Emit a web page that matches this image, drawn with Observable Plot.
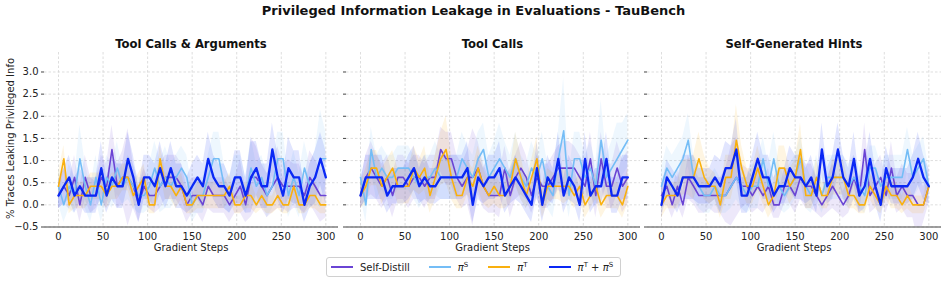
<!DOCTYPE html>
<html>
<head>
<meta charset="utf-8">
<script src="https://cdn.jsdelivr.net/npm/d3@7"></script>
<script src="https://cdn.jsdelivr.net/npm/@observablehq/plot@0.6"></script>
<style>
  html, body { margin: 0; padding: 0; background: #fff; }
  #root { position: relative; width: 947px; height: 281px; font-family: "DejaVu Sans", sans-serif; color: #111; overflow: hidden; }
  .abs { position: absolute; }
  .ptitle { font-weight: bold; font-size: 11.6px; text-align: center; width: 294px; top: 37px; }
  .xlabel { font-size: 10px; text-align: center; width: 294px; top: 242px; color: #222; }
  #legend { position: absolute; left: 326px; top: 257px; width: 293px; height: 18px; border: 1px solid #d0d0d0; border-radius: 3px; display: flex; align-items: center; font-size: 10px; color: #222; white-space: nowrap; }
  .li { display: flex; align-items: center; white-space: nowrap; flex: none; }
  .sw { width: 22px; height: 2px; margin: 0 7px 0 0; flex: none; }
  sup { font-size: 7px; vertical-align: 4px; font-style: normal; line-height: 0; }
</style>
</head>
<body>
<div id="root">
  <div class="abs" style="left:0;top:3px;width:947px;text-align:center;font-weight:bold;font-size:13px;">Privileged Information Leakage in Evaluations - TauBench</div>
  <div class="abs" style="left:-74px;top:133px;width:168px;text-align:center;font-size:10px;transform:rotate(-90deg);color:#222;white-space:nowrap;">% Traces Leaking Privileged Info</div>
  <div id="legend">
    <div class="li" style="margin-left:4px"><div class="sw" style="background:#6a44d4"></div><span>Self-Distill</span></div>
    <div class="li" style="margin-left:19px"><div class="sw" style="background:#74bdf6"></div><span><i>π</i><sup>S</sup></span></div>
    <div class="li" style="margin-left:20px"><div class="sw" style="background:#f9b00e"></div><span><i>π</i><sup>T</sup></span></div>
    <div class="li" style="margin-left:21px"><div class="sw" style="background:#0a28f5"></div><span><i>π</i><sup>T</sup> + <i>π</i><sup>S</sup></span></div>
  </div>
</div>
<script>
// ---------- data ----------
const steps = [0,6,12,18,24,30,36,42,48,54,60,66,72,78,84,90,96,102,108,114,120,126,132,138,144,150,156,162,168,174,180,186,192,198,204,210,216,222,228,234,240,246,252,258,264,270,276,282,288,294,300];
const seriesNames = ["Self-Distill", "πS", "πT", "πT + πS"];
const seriesColors = ["#6a44d4", "#74bdf6", "#f9b00e", "#0a28f5"];
const panelTitles = ["Tool Calls & Arguments", "Tool Calls", "Self-Generated Hints"];
const xTicks = [0, 50, 100, 150, 200, 250, 300];
const yTicks = [-0.5, 0, 0.5, 1.0, 1.5, 2.0, 2.5, 3.0];

// Panel 1: Tool Calls & Arguments
const tcaSelfDistill = [0.21,0.42,0.21,0.62,0,0.62,0.21,0.21,0.62,0.42,1.25,0.42,0.62,0.62,0.42,0,0.42,0.21,0.21,0.42,0.62,0.62,0.62,0.42,0,0.21,0.21,0,0.42,0.21,0.21,0.21,0,0.21,0.42,0,0.62,0.62,0.42,0.21,0.42,0.62,0.42,0.42,0.42,0.42,0.21,0.62,0.42,0.21,0.21];
const tcaPiS = [0.42,0,0.42,0.21,1.04,0.42,0,0.62,0,0.62,0.42,0.83,0.42,0.62,0.42,0.21,0.21,0.42,0.83,0.42,0.62,0.42,0.62,0.83,0.62,0,0.21,0.21,0.62,1.04,1.04,0.42,0.21,0.62,0.62,0.21,0.83,0.42,0.62,0.21,0.42,1.04,1.04,0.21,0.62,0.21,0.83,0.42,0.62,1.04,1.04];
const tcaPiT = [0.42,1.04,0,0.21,0.21,0.21,0.42,0.42,0.42,0.21,0.42,0.42,0.62,0.62,0.21,0.42,0.62,0,0,1.04,0.42,0.42,0.21,0.42,0,0,0.21,0.21,0.21,0.21,0.21,0.21,0.42,0,0,0.21,0.21,0,0.21,0,0,0.21,0,0,0.42,0,0,0.21,0.21,0,0];
const tcaPiTS = [0.21,0.42,0.62,0.21,0.42,0.21,0.21,0.21,0.83,0.21,0.62,0.42,0.42,1.04,0.62,0,0.62,0.62,0.42,0.83,0.42,0.83,0.42,0.42,0.21,0.42,0.62,0.42,1.04,0.62,0.42,0.42,0.21,0.62,0.62,0.21,0.62,0.83,0.42,0.42,1.25,0.62,0.21,0.83,0.62,0.62,0,0.42,0.62,1.04,0.62];
const tcaSelfDistillErr = [0.3,0.4,0.3,0.5,0.4,0.5,0.4,0.3,0.5,0.5,0.55,0.5,0.6,1.1,0.5,0.4,0.4,0.3,0.4,0.5,0.5,0.5,0.5,0.5,0.4,0.4,0.4,0.4,0.5,0.4,0.4,0.4,0.4,0.4,0.6,0.4,0.9,0.7,0.5,0.5,0.6,0.7,0.5,0.6,0.5,0.5,0.4,0.6,0.6,0.6,0.5];
const tcaPiSErr = [0.4,0.4,0.5,0.4,0.75,0.5,0.4,0.5,0.4,0.5,0.5,0.6,0.4,0.5,0.5,0.4,0.4,0.5,0.6,0.6,0.7,0.5,0.5,0.5,0.5,0.4,0.4,0.4,0.5,0.6,0.6,0.5,0.4,0.5,0.5,0.4,0.7,0.5,0.5,0.5,0.5,0.6,0.6,0.5,0.6,0.5,0.6,0.5,0.6,1.1,0.6];
const tcaPiTErr = [0.3,0.3,0.2,0.3,0.3,0.3,0.3,0.3,0.3,0.3,0.3,0.3,0.3,0.3,0.3,0.3,0.3,0.2,0.2,0.3,0.3,0.3,0.3,0.3,0.2,0.2,0.3,0.3,0.3,0.3,0.3,0.3,0.3,0.2,0.2,0.3,0.3,0.2,0.3,0.2,0.2,0.3,0.2,0.2,0.3,0.2,0.2,0.3,0.3,0.2,0.2];
const tcaPiTSErr = [0.3,0.4,0.5,0.4,0.4,0.4,0.4,0.4,0.6,0.4,0.5,0.5,0.5,0.6,0.5,0.4,0.5,0.5,0.5,0.6,0.5,0.6,0.5,0.5,0.4,0.5,0.5,0.5,0.6,0.5,0.5,0.5,0.4,0.6,0.6,0.4,0.8,0.6,0.5,0.5,0.6,0.5,0.4,0.7,0.6,0.6,0.4,0.5,0.6,0.6,0.6];

// Panel 2: Tool Calls
const tcSelfDistill = [0.21,0.62,0.83,0.62,0.42,0.62,0.21,0.62,0.62,0.42,0.62,0.62,0.42,0.62,0.62,1.25,1.04,1.04,0.62,0.42,0.62,0.62,0.83,0.42,0.21,0.21,0.21,0.83,0.21,0.62,0.83,0.62,0.21,0.62,0.42,0.42,0.62,0.83,0.83,0.83,0.83,0.62,0.42,1.04,0.21,1.04,0.42,0.42,0.83,0.42,0.62];
const tcPiS = [0.62,0,1.25,0.62,0.83,0.62,0.62,0.83,0.83,0.83,0.62,0.42,0.62,0.62,0.83,0.62,0.62,0.62,0.62,1.04,0.83,0.62,1.04,1.25,0.62,0.83,1.04,0.83,0.62,1.04,0.62,0.42,0.83,0.62,1.04,0.42,0.21,1.04,1.67,0.21,1.04,1.04,0.62,0.83,0.42,1.46,0.62,0.83,1.04,1.25,1.46];
const tcPiT = [0.21,0.42,0.83,0.83,0.42,0.62,0.83,0.42,0.42,0.42,0.83,0.62,0.83,0.21,0.62,1.04,1.25,0.62,0.21,0.21,0.62,0.42,0.83,0.42,0.21,0.42,0.21,0.21,0.42,1.04,0.62,0.21,0.62,1.04,0,0.42,0.42,0.42,0.42,0.42,0.21,0.42,0,0.21,0.42,0,0.21,0.21,0.21,0,0.42];
const tcPiTS = [0.21,0.62,0.62,0.62,0.62,0.21,0.42,0.42,0.42,0.62,0.83,0.42,0.62,0.42,0.42,0.62,0.62,0.62,0.62,0.62,0.83,0,0.62,0.42,0.62,0.62,0.83,0.21,0.42,0.62,0.42,0.21,0,0.83,0,0.62,0.42,1.04,0.21,0.62,0.42,0,1.04,0.21,0.42,0.42,1.04,0.21,0.21,0.62,0.62];
const tcSelfDistillErr = [0.3,0.5,0.6,0.5,0.5,0.5,0.5,0.5,0.5,0.5,0.5,0.5,0.5,0.5,0.5,0.5,0.6,0.6,0.5,0.5,0.6,1.1,0.6,0.5,0.4,0.4,0.5,0.5,0.5,0.5,0.6,0.5,0.4,0.5,0.5,0.5,0.5,0.5,0.6,0.6,0.5,0.5,0.5,0.6,0.5,0.6,0.5,0.5,0.6,0.6,0.6];
const tcPiSErr = [0.4,0.4,0.5,0.5,0.5,0.5,0.5,0.5,0.5,0.5,0.5,0.5,0.5,0.5,0.6,0.5,0.5,0.5,0.5,0.6,0.5,0.5,0.6,0.6,0.5,0.6,0.8,0.6,0.5,0.6,0.5,0.5,0.6,0.5,0.6,0.5,0.5,0.6,1.2,0.5,0.6,0.6,0.5,0.6,0.5,0.9,0.5,0.6,0.8,0.6,0.6];
const tcPiTErr = [0.3,0.4,0.4,0.4,0.4,0.4,0.4,0.4,0.4,0.4,0.5,0.4,0.5,0.4,0.5,0.6,0.75,0.5,0.3,0.3,0.4,0.4,0.5,0.4,0.3,0.4,0.3,0.3,0.4,0.6,0.5,0.3,0.4,0.5,0.3,0.4,0.3,0.3,0.4,0.3,0.3,0.3,0.3,0.3,0.3,0.3,0.3,0.3,0.3,0.3,0.4];
const tcPiTSErr = [0.3,0.5,0.5,0.5,0.5,0.4,0.4,0.4,0.4,0.5,0.5,0.4,0.5,0.4,0.4,0.5,0.5,0.5,0.5,0.5,0.6,0.4,0.5,0.4,0.5,0.5,0.6,0.4,0.4,0.5,0.4,0.4,0.4,0.6,0.4,0.5,0.4,0.6,0.4,0.5,0.4,0.4,0.6,0.4,0.4,0.4,0.6,0.4,0.4,0.5,0.5];

// Panel 3: Self-Generated Hints
const sghSelfDistill = [0.21,0.42,0,0.42,0,0.62,0.42,0.21,0.21,0.21,0.21,0.21,0.21,0.42,0.62,0.42,0.42,0.21,0.42,0.21,0.42,0,0,0.42,0.42,0.21,0.62,0.42,0.42,0.21,0,0.21,0.42,0.21,0,0.21,0.62,0.21,1.25,0.21,0.42,0.62,0.21,0.83,0.21,0.42,0.21,0.21,0,0,0.42];
const sghPiS = [0.42,0.83,0.62,0.83,1.04,1.46,0.62,0.42,0.21,0.21,0.42,0.21,0.21,0.42,0.62,0.42,0.21,0.42,0.42,1.04,0.42,1.04,0.42,0.21,0.42,0.62,1.04,0.42,0.21,0.62,0.21,0.62,0.62,0.62,0.62,0.42,0.62,0.42,0.21,0.83,0.83,0.42,0.62,0.62,0.62,0.62,1.25,0.62,0.83,1.04,0.42];
const sghPiT = [0,0.21,0.21,0.21,0.62,0.62,0.62,1.04,0.62,0.42,0.42,0,0.62,0.62,1.46,0.83,0.42,0.42,0.83,0.42,0,0.21,0.83,0.83,0.42,0.62,1.25,0.21,0.21,0.62,0.21,0.21,0.62,0.62,0.62,0.21,0.21,0,0,0.42,0.21,0,0.42,0.21,0.21,0,0.21,0,0,0,0.42];
const sghPiTS = [0,0.62,0.42,0.21,0.62,0.62,0.62,0.42,0.42,0.42,0.62,0.42,0.83,0.83,1.25,0.21,0.21,0.62,1.04,0.62,0.62,0.21,0.42,0.42,0.83,0.62,0.62,0.42,0.62,0.21,1.25,0.42,0.62,1.25,0.62,0.42,1.04,0.21,0.42,1.04,0.42,0,0.83,0.42,0.42,0.42,0.42,0.62,1.04,0.62,0.42];
const sghSelfDistillErr = [0.3,0.4,0.3,0.4,0.3,0.5,0.4,0.4,0.4,0.3,0.4,0.4,0.6,0.9,0.9,0.5,0.4,0.4,0.5,0.4,0.4,0.3,0.3,0.4,0.4,0.4,0.5,0.5,0.5,0.4,0.3,0.4,0.5,0.4,0.3,0.4,0.5,0.4,0.6,0.4,0.5,0.5,0.4,0.6,0.4,0.5,0.5,0.5,0.8,0.4,0.4];
const sghPiSErr = [0.4,0.5,0.5,0.5,0.5,0.6,0.5,0.5,0.4,0.4,0.4,0.4,0.4,0.5,0.5,0.5,0.4,0.5,0.5,0.5,0.5,0.6,0.5,0.4,0.5,0.5,0.5,0.5,0.4,0.5,0.4,0.5,0.5,0.5,0.5,0.5,0.5,0.5,0.4,0.5,0.5,0.5,0.5,0.5,0.5,0.5,0.5,0.5,0.5,0.5,0.4];
const sghPiTErr = [0.3,0.3,0.3,0.3,0.4,0.4,0.5,0.6,0.5,0.4,0.3,0.3,0.5,0.5,0.8,0.5,0.4,0.4,0.5,0.4,0.3,0.3,0.5,0.5,0.4,0.4,0.6,0.3,0.3,0.4,0.3,0.3,0.4,0.4,0.4,0.3,0.3,0.2,0.2,0.3,0.3,0.2,0.3,0.3,0.3,0.2,0.3,0.2,0.2,0.2,0.3];
const sghPiTSErr = [0.3,0.4,0.4,0.4,0.5,0.5,0.5,0.4,0.4,0.4,0.5,0.6,0.6,0.5,0.7,0.4,0.4,0.5,0.6,0.5,0.5,0.4,0.4,0.4,0.5,0.5,0.5,0.4,0.5,0.4,0.6,0.4,0.5,0.6,0.5,0.4,0.6,0.4,0.5,0.6,0.4,0.4,0.5,0.4,0.4,0.4,0.4,0.5,0.6,0.5,0.4];

const panels = [
  {title: panelTitles[0], values: [tcaSelfDistill, tcaPiS, tcaPiT, tcaPiTS], errs: [tcaSelfDistillErr, tcaPiSErr, tcaPiTErr, tcaPiTSErr]},
  {title: panelTitles[1], values: [tcSelfDistill, tcPiS, tcPiT, tcPiTS], errs: [tcSelfDistillErr, tcPiSErr, tcPiTErr, tcPiTSErr]},
  {title: panelTitles[2], values: [sghSelfDistill, sghPiS, sghPiT, sghPiTS], errs: [sghSelfDistillErr, sghPiSErr, sghPiTErr, sghPiTSErr]}
];

// ---------- drawing ----------
const root = document.getElementById("root");
const spacing = 301.5;
const fmt = d3.format(".1f");

panels.forEach((p, k) => {
  const rows = [];
  p.values.forEach((vals, s) => {
    vals.forEach((v, i) => {
      rows.push({series: seriesNames[s], step: steps[i], value: v, lo: v - p.errs[s][i], hi: v + p.errs[s][i]});
    });
  });
  const marks = [
    Plot.gridX(xTicks, {stroke: "#cfcfcf", strokeOpacity: 1, strokeDasharray: "2.5,2", strokeWidth: 0.7}),
    Plot.gridY(yTicks, {stroke: "#cfcfcf", strokeOpacity: 1, strokeDasharray: "2.5,2", strokeWidth: 0.7})
  ];
  seriesNames.forEach((name, s) => {
    marks.push(Plot.areaY(rows.filter(r => r.series === name), {x: "step", y1: "lo", y2: "hi", fill: seriesColors[s], fillOpacity: 0.12, clip: true}));
  });
  seriesNames.forEach((name, s) => {
    marks.push(Plot.lineY(rows.filter(r => r.series === name), {x: "step", y: "value", stroke: seriesColors[s], strokeWidth: s === 3 ? 2.3 : 1.6, clip: true}));
  });
  marks.push(Plot.ruleY([-0.5], {stroke: "#444", strokeWidth: 1}));
  marks.push(Plot.axisX(xTicks, {tickSize: 0, tickPadding: 6, fontSize: 10, label: null, fill: "#222"}));
  marks.push(Plot.axisY(yTicks, {tickSize: 3, tickPadding: 3, fontSize: 10, label: null, fill: "#222", stroke: "#444",
    tickFormat: k === 0 ? fmt : () => ""}));

  const chart = Plot.plot({
    width: 342, height: 258,
    marginLeft: 44, marginRight: 4, marginTop: 52, marginBottom: 31.5,
    style: {fontFamily: "DejaVu Sans, sans-serif", background: "transparent", overflow: "visible"},
    x: {domain: [-15.7, 314.2]},
    y: {domain: [-0.5, 3.44]},
    marks
  });
  chart.style.position = "absolute";
  chart.style.left = (spacing * k) + "px";
  chart.style.top = "0px";
  root.appendChild(chart);

  const t = document.createElement("div");
  t.className = "abs ptitle";
  t.style.left = (44 + spacing * k) + "px";
  t.textContent = p.title;
  root.appendChild(t);

  const xl = document.createElement("div");
  xl.className = "abs xlabel";
  xl.style.left = (44 + spacing * k) + "px";
  xl.textContent = "Gradient Steps";
  root.appendChild(xl);
});
root.appendChild(document.getElementById("legend"));
</script>
</body>
</html>
